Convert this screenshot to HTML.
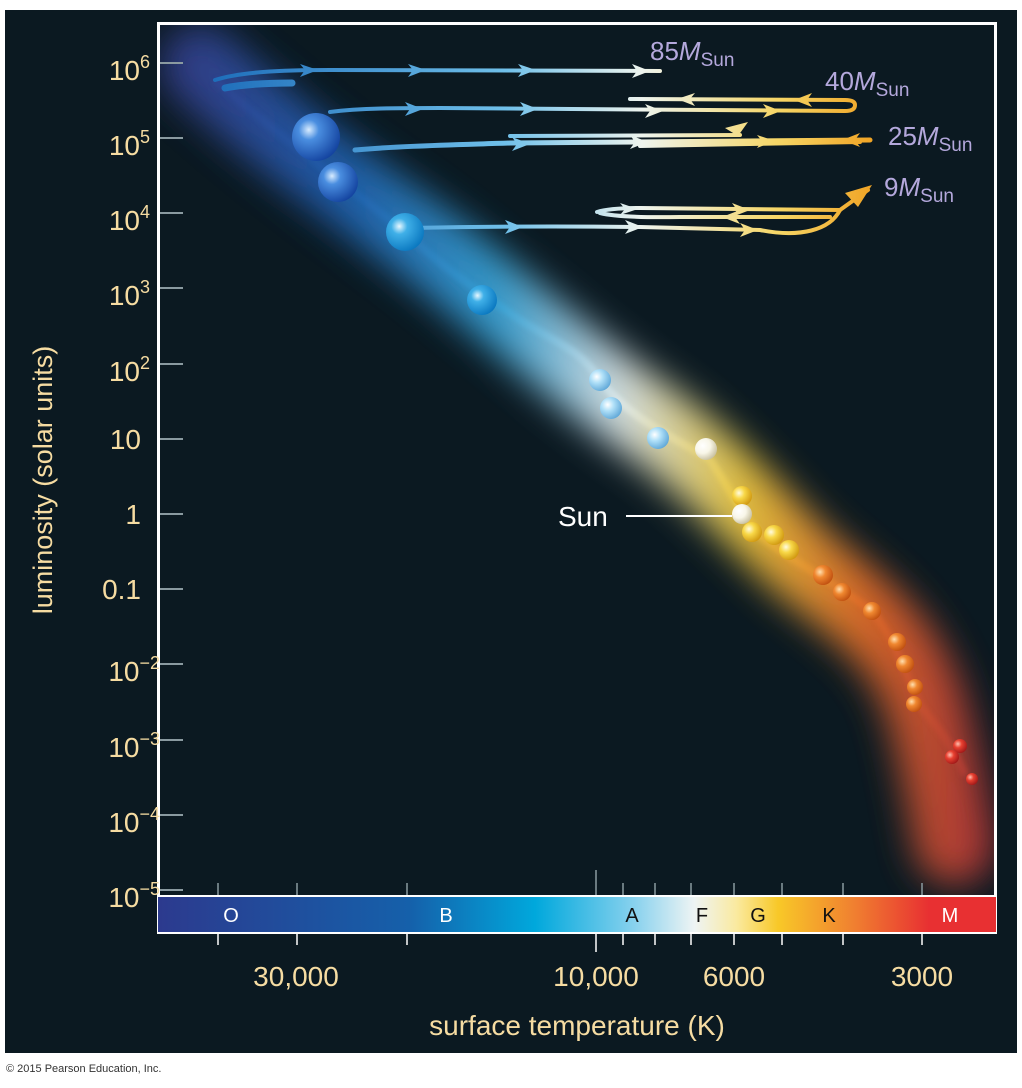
<!DOCTYPE html>
<html><head><meta charset="utf-8"><style>
html,body{margin:0;padding:0;background:#fff;}
body{width:1022px;height:1088px;position:relative;overflow:hidden;font-family:"Liberation Sans",sans-serif;}
</style></head><body>
<svg width="1022" height="1088" viewBox="0 0 1022 1088" xmlns="http://www.w3.org/2000/svg" style="position:absolute;left:0;top:0">
<defs>
<clipPath id="plot"><rect x="160" y="25" width="834" height="870"/></clipPath>
<filter id="blur" x="-30%" y="-30%" width="160%" height="160%"><feGaussianBlur stdDeviation="18"/></filter>
<filter id="blur2"><feGaussianBlur stdDeviation="2"/></filter>
<linearGradient id="band" gradientUnits="userSpaceOnUse" x1="180" y1="0" x2="980" y2="0">
<stop offset="0" stop-color="#35408f"/><stop offset="0.2" stop-color="#2060b0"/><stop offset="0.4" stop-color="#3aa8dc"/>
<stop offset="0.55" stop-color="#e8f2f4"/><stop offset="0.7" stop-color="#f5d040"/><stop offset="0.85" stop-color="#e87028"/><stop offset="1" stop-color="#b83838"/></linearGradient>
<linearGradient id="trk" gradientUnits="userSpaceOnUse" x1="200" y1="0" x2="880" y2="0">
<stop offset="0" stop-color="#1a6ab8"/><stop offset="0.45" stop-color="#70c0ea"/><stop offset="0.65" stop-color="#eef4ee"/><stop offset="0.85" stop-color="#f6d666"/><stop offset="1" stop-color="#f0a020"/></linearGradient>
<linearGradient id="cbar" x1="0" y1="0" x2="1" y2="0">
<stop offset="0" stop-color="#2c3a8e"/><stop offset="0.3" stop-color="#1560aa"/><stop offset="0.45" stop-color="#00a8dc"/><stop offset="0.57" stop-color="#8ad2ee"/><stop offset="0.64" stop-color="#eef4f4"/><stop offset="0.69" stop-color="#faeaa0"/><stop offset="0.74" stop-color="#f8c828"/><stop offset="0.83" stop-color="#f08030"/><stop offset="0.92" stop-color="#e83032"/><stop offset="1" stop-color="#e83032"/></linearGradient>
<radialGradient id="sB" cx="0.35" cy="0.35" r="0.7"><stop offset="0" stop-color="#d8ecff"/><stop offset="0.3" stop-color="#4a8ee0"/><stop offset="1" stop-color="#1444a0"/></radialGradient>
<radialGradient id="sC" cx="0.35" cy="0.35" r="0.7"><stop offset="0" stop-color="#e8f8ff"/><stop offset="0.3" stop-color="#40b0e8"/><stop offset="1" stop-color="#0a78c0"/></radialGradient>
<radialGradient id="sL" cx="0.35" cy="0.35" r="0.7"><stop offset="0" stop-color="#ffffff"/><stop offset="0.4" stop-color="#b0e0f8"/><stop offset="1" stop-color="#60a8d8"/></radialGradient>
<radialGradient id="sW" cx="0.35" cy="0.35" r="0.7"><stop offset="0" stop-color="#ffffff"/><stop offset="0.5" stop-color="#f8f6e8"/><stop offset="1" stop-color="#c8c0a0"/></radialGradient>
<radialGradient id="sY" cx="0.35" cy="0.35" r="0.7"><stop offset="0" stop-color="#fffbe0"/><stop offset="0.4" stop-color="#f8d848"/><stop offset="1" stop-color="#d09810"/></radialGradient>
<radialGradient id="sO" cx="0.35" cy="0.35" r="0.7"><stop offset="0" stop-color="#ffe0b0"/><stop offset="0.4" stop-color="#f08830"/><stop offset="1" stop-color="#c05010"/></radialGradient>
<radialGradient id="sR" cx="0.35" cy="0.35" r="0.7"><stop offset="0" stop-color="#ffc0b0"/><stop offset="0.4" stop-color="#e84030"/><stop offset="1" stop-color="#a01818"/></radialGradient>
</defs>
<rect x="5" y="10" width="1012" height="1043" fill="#0b1921"/>
<!-- band -->
<g clip-path="url(#plot)">
<g filter="url(#blur)" opacity="0.9">
<path d="M200,65 C260,120 330,175 420,240 C500,300 560,360 640,415 C700,455 740,500 800,560 C860,610 910,640 930,720 C945,780 950,820 955,845" fill="none" stroke="url(#band)" stroke-width="80" stroke-linecap="round"/>
</g>
<path d="M215,80 C260,120 320,165 405,232 C440,265 470,285 520,320 C560,345 580,350 600,380 C630,420 680,440 710,460 C730,490 740,510 760,535 C790,560 830,580 872,611 C895,640 905,670 920,705 C935,725 950,740 965,775" fill="none" stroke="url(#band)" stroke-width="8" opacity="0.55" filter="url(#blur2)"/>
</g>
<!-- frame -->
<rect x="158.5" y="23.5" width="837" height="909" fill="none" stroke="#fff" stroke-width="3"/>
<rect x="158" y="897" width="838" height="35" fill="url(#cbar)"/>
<line x1="158" y1="896" x2="996" y2="896" stroke="#fff" stroke-width="2"/>
<!-- y ticks -->
<g stroke="#8a9aa0" stroke-width="2">
<line x1="160" y1="63" x2="183" y2="63"/><line x1="160" y1="138" x2="183" y2="138"/><line x1="160" y1="213" x2="183" y2="213"/><line x1="160" y1="288" x2="183" y2="288"/><line x1="160" y1="364" x2="183" y2="364"/><line x1="160" y1="439" x2="183" y2="439"/><line x1="160" y1="514" x2="183" y2="514"/><line x1="160" y1="589" x2="183" y2="589"/><line x1="160" y1="664" x2="183" y2="664"/><line x1="160" y1="740" x2="183" y2="740"/><line x1="160" y1="815" x2="183" y2="815"/><line x1="160" y1="890" x2="183" y2="890"/>
</g>
<!-- x ticks -->
<g stroke="#8a9aa0" stroke-width="1.5">
<line x1="218" y1="883" x2="218" y2="895"/><line x1="297" y1="883" x2="297" y2="895"/><line x1="407" y1="883" x2="407" y2="895"/><line x1="596" y1="870" x2="596" y2="895"/><line x1="623" y1="883" x2="623" y2="895"/><line x1="655" y1="883" x2="655" y2="895"/><line x1="691" y1="883" x2="691" y2="895"/><line x1="734" y1="883" x2="734" y2="895"/><line x1="782" y1="883" x2="782" y2="895"/><line x1="843" y1="883" x2="843" y2="895"/><line x1="922" y1="883" x2="922" y2="895"/>
</g>
<g stroke="#fff" stroke-width="1.5">
<line x1="218" y1="934" x2="218" y2="945"/><line x1="297" y1="934" x2="297" y2="945"/><line x1="407" y1="934" x2="407" y2="945"/><line x1="596" y1="934" x2="596" y2="952"/><line x1="623" y1="934" x2="623" y2="945"/><line x1="655" y1="934" x2="655" y2="945"/><line x1="691" y1="934" x2="691" y2="945"/><line x1="734" y1="934" x2="734" y2="945"/><line x1="782" y1="934" x2="782" y2="945"/><line x1="843" y1="934" x2="843" y2="945"/><line x1="922" y1="934" x2="922" y2="945"/>
</g>
<g font-size="20" text-anchor="middle">
<text x="231" y="922" fill="#fff">O</text><text x="446" y="922" fill="#fff">B</text><text x="632" y="922" fill="#111">A</text><text x="702" y="922" fill="#111">F</text><text x="758" y="922" fill="#111">G</text><text x="829" y="922" fill="#111">K</text><text x="950" y="922" fill="#fff">M</text>
</g>
<!-- tracks -->
<g fill="none" stroke="url(#trk)" stroke-width="4" stroke-linecap="round">
<path d="M215,80 C240,72 280,70 330,70 L660,71"/>
<path d="M225,88 C245,84 270,83 292,83" stroke-width="7"/>
<path d="M330,112 C360,108 400,108 440,108 L845,111 Q855,111 855,105 Q855,100 845,100 L630,99"/>
<path d="M355,150 C400,146 450,145 510,143 L870,140" stroke-width="5"/>
<path d="M510,136 L740,135 M640,146 L860,142"/>
<path d="M410,228 C500,226 560,226 640,227 L760,230 C800,238 830,230 840,210 L868,190"/>
<path d="M597,212 Q610,208 640,208 L840,210 M600,213 Q620,218 680,217 L830,217"/>
</g>
<g fill="url(#trk)">
<polygon points="300,64 318,70 300,77 305,70"/><polygon points="408,64 426,70 408,77 413,70"/><polygon points="518,64 536,70 518,77 523,70"/><polygon points="632,64 650,71 632,78 637,71"/>
<polygon points="405,102 423,109 405,116 410,109"/><polygon points="520,102 538,109 520,116 525,109"/><polygon points="645,104 663,111 645,118 650,111"/><polygon points="763,104 781,111 763,118 768,111"/>
<polygon points="695,93 677,99 695,106 690,99"/><polygon points="812,93 794,100 812,107 807,100"/>
<polygon points="512,137 530,144 512,151 517,144"/><polygon points="630,135 648,142 630,149 635,142"/><polygon points="757,135 775,141 757,148 762,141"/><polygon points="725,128 748,122 738,136"/><polygon points="860,133 842,140 860,147 855,140"/>
<polygon points="505,220 523,227 505,234 510,227"/><polygon points="625,220 643,227 625,234 630,227"/><polygon points="740,223 758,230 740,237 745,230"/>
<polygon points="620,203 638,209 620,215 625,209"/><polygon points="732,203 750,210 732,217 737,210"/><polygon points="740,210 722,217 740,224 735,217"/><polygon points="845,193 872,185 858,207"/>
</g>
<!-- stars -->
<g>
<circle cx="316" cy="137" r="24" fill="url(#sB)"/><circle cx="338" cy="182" r="20" fill="url(#sB)"/><circle cx="405" cy="232" r="19" fill="url(#sC)"/><circle cx="482" cy="300" r="15" fill="url(#sC)"/>
<circle cx="600" cy="380" r="11" fill="url(#sL)"/><circle cx="611" cy="408" r="11" fill="url(#sL)"/><circle cx="658" cy="438" r="11" fill="url(#sL)"/><circle cx="706" cy="449" r="11" fill="url(#sW)"/>
<circle cx="742" cy="496" r="10" fill="url(#sY)"/><circle cx="742" cy="514" r="10" fill="url(#sW)"/><circle cx="752" cy="532" r="10" fill="url(#sY)"/><circle cx="774" cy="535" r="10" fill="url(#sY)"/><circle cx="789" cy="550" r="10" fill="url(#sY)"/>
<circle cx="823" cy="575" r="10" fill="url(#sO)"/><circle cx="842" cy="592" r="9" fill="url(#sO)"/><circle cx="872" cy="611" r="9" fill="url(#sO)"/><circle cx="897" cy="642" r="9" fill="url(#sO)"/><circle cx="905" cy="664" r="9" fill="url(#sO)"/><circle cx="915" cy="687" r="8" fill="url(#sO)"/><circle cx="914" cy="704" r="8" fill="url(#sO)"/>
<circle cx="960" cy="746" r="7" fill="url(#sR)"/><circle cx="952" cy="757" r="7" fill="url(#sR)"/><circle cx="972" cy="779" r="6" fill="url(#sR)"/>
</g>
<!-- Sun -->
<line x1="626" y1="516" x2="732" y2="516" stroke="#fff" stroke-width="2"/>
<text x="558" y="526" font-size="28" fill="#fff">Sun</text>
<!-- track labels -->
<g fill="#b4a8dc" font-size="26">
<text x="650" y="60">85<tspan font-style="italic">M</tspan><tspan font-size="19" dy="6">Sun</tspan></text>
<text x="825" y="90">40<tspan font-style="italic">M</tspan><tspan font-size="19" dy="6">Sun</tspan></text>
<text x="888" y="145">25<tspan font-style="italic">M</tspan><tspan font-size="19" dy="6">Sun</tspan></text>
<text x="884" y="196">9<tspan font-style="italic">M</tspan><tspan font-size="19" dy="6">Sun</tspan></text>
</g>
<!-- y labels -->
<g fill="#f6dca2" font-size="28" text-anchor="end">
<text x="150" y="80">10<tspan font-size="18" dy="-12">6</tspan></text>
<text x="150" y="155">10<tspan font-size="18" dy="-12">5</tspan></text>
<text x="150" y="230">10<tspan font-size="18" dy="-12">4</tspan></text>
<text x="150" y="305">10<tspan font-size="18" dy="-12">3</tspan></text>
<text x="150" y="381">10<tspan font-size="18" dy="-12">2</tspan></text>
<text x="141" y="449">10</text>
<text x="141" y="524">1</text>
<text x="141" y="599">0.1</text>
<text x="160" y="681">10<tspan font-size="18" dy="-12">−2</tspan></text>
<text x="160" y="757">10<tspan font-size="18" dy="-12">−3</tspan></text>
<text x="160" y="832">10<tspan font-size="18" dy="-12">−4</tspan></text>
<text x="160" y="907">10<tspan font-size="18" dy="-12">−5</tspan></text>
</g>
<text transform="translate(52,480) rotate(-90)" fill="#f6dca2" font-size="27" text-anchor="middle">luminosity (solar units)</text>
<g fill="#f6dca2" font-size="28" text-anchor="middle">
<text x="296" y="986">30,000</text><text x="596" y="986">10,000</text><text x="734" y="986">6000</text><text x="922" y="986">3000</text>
<text x="577" y="1035" font-size="28">surface temperature (K)</text>
</g>
<text x="6" y="1072" font-size="11" fill="#333">© 2015 Pearson Education, Inc.</text>
</svg>
</body></html>
